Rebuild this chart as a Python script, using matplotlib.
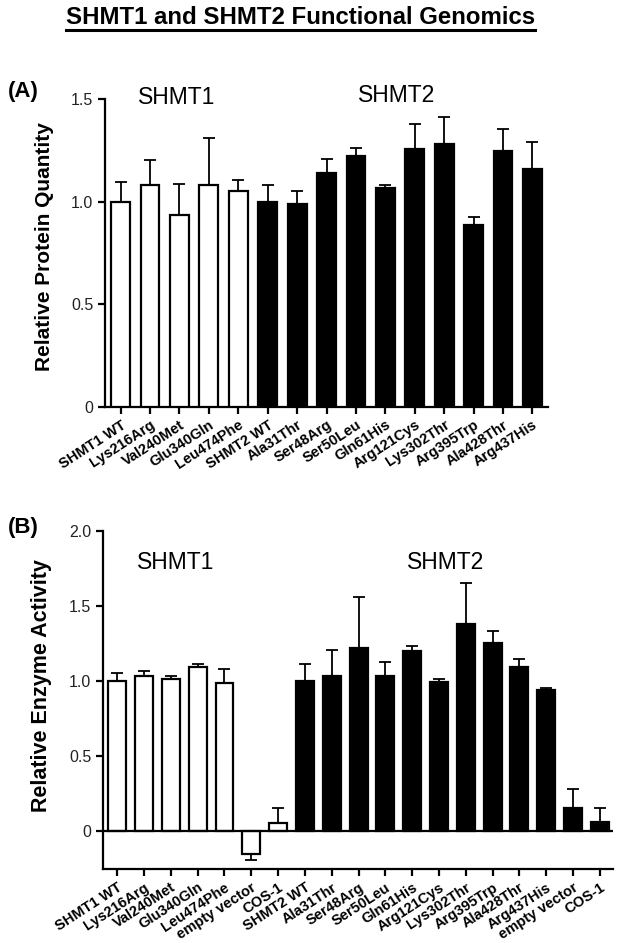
import matplotlib
matplotlib.use("Agg")
import matplotlib.pyplot as plt
from matplotlib.lines import Line2D
import numpy as np

plt.rcParams['font.family'] = ['Liberation Sans', 'DejaVu Sans']

# ---------------- data ----------------
labels_a = ["SHMT1 WT", "Lys216Arg", "Val240Met", "Glu340Gln", "Leu474Phe",
            "SHMT2 WT", "Ala31Thr", "Ser48Arg", "Ser50Leu", "Gln61His",
            "Arg121Cys", "Lys302Thr", "Arg395Trp", "Ala428Thr", "Arg437His"]
values_a = [1.00, 1.08, 0.934, 1.08, 1.051,
            1.00, 0.989, 1.14, 1.224, 1.068,
            1.257, 1.28, 0.888, 1.246, 1.161]
errors_a = [0.093, 0.123, 0.152, 0.232, 0.056,
            0.081, 0.063, 0.067, 0.038, 0.013,
            0.119, 0.13, 0.039, 0.109, 0.127]
group_a = ["SHMT1"] * 5 + ["SHMT2"] * 10

labels_b = ["SHMT1 WT", "Lys216Arg", "Val240Met", "Glu340Gln", "Leu474Phe",
            "empty vector", "COS-1",
            "SHMT2 WT", "Ala31Thr", "Ser48Arg", "Ser50Leu", "Gln61His",
            "Arg121Cys", "Lys302Thr", "Arg395Trp", "Ala428Thr", "Arg437His",
            "empty vector", "COS-1"]
values_b = [1.00, 1.029, 1.009, 1.093, 0.987, -0.153, 0.053,
            1.00, 1.031, 1.22, 1.031, 1.198, 0.991, 1.376, 1.25, 1.093, 0.94,
            0.153, 0.058]
errors_b = [0.049, 0.036, 0.022, 0.018, 0.089, 0.042, 0.098,
            0.109, 0.172, 0.338, 0.092, 0.035, 0.022, 0.28, 0.083, 0.051, 0.011,
            0.125, 0.093]
group_b = ["SHMT1"] * 7 + ["SHMT2"] * 12

yticks_a = [0, 0.5, 1.0, 1.5]
yticklabels_a = ["0", "0.5", "1.0", "1.5"]
yticks_b = [0, 0.5, 1.0, 1.5, 2.0]
yticklabels_b = ["0", "0.5", "1.0", "1.5", "2.0"]

title = "SHMT1 and SHMT2 Functional Genomics"

# ---------------- figure ----------------
W, H = 624, 943
fig = plt.figure(figsize=(W / 100, H / 100), dpi=100)

def px_axes(l, t, r, b):
    return fig.add_axes([l / W, 1 - b / H, (r - l) / W, (b - t) / H])

ax_a = px_axes(105, 99, 548.3, 406.7)
ax_b = px_axes(103.3, 531, 613.3, 869.3)

LW = 1.6
colors = {"SHMT1": "white", "SHMT2": "black"}

def draw_panel(ax, labels, values, errors, groups, width):
    x = np.arange(len(labels))
    fc = [colors[g] for g in groups]
    ax.bar(x, values, width=width, color=fc, edgecolor="black", linewidth=LW, zorder=3)
    for xi, v, e in zip(x, values, errors):
        if v >= 0:
            yerr = [[0], [e]]
        else:
            yerr = [[e], [0]]
        ax.errorbar([xi], [v], yerr=yerr, fmt="none", ecolor="black",
                    elinewidth=1.3, capsize=4.3, capthick=1.3, zorder=2)
    ax.set_xticks(x)
    ax.set_xticklabels(labels, rotation=33, ha="right", rotation_mode="anchor",
                       fontsize=10.5, fontweight="bold")
    for s in ["top", "right"]:
        ax.spines[s].set_visible(False)
    for s in ["left", "bottom"]:
        ax.spines[s].set_linewidth(LW)
    ax.tick_params(axis="both", direction="out", length=5, width=LW, colors="black")
    ax.tick_params(axis="y", labelsize=11.5, labelcolor="#222222")
    ax.tick_params(axis="x", pad=3)

# Panel A
draw_panel(ax_a, labels_a, values_a, errors_a, group_a, 0.64)
ax_a.set_xlim(-0.53, 14.54)
ax_a.set_ylim(0, 1.5)
ax_a.set_yticks(yticks_a)
ax_a.set_yticklabels(yticklabels_a)
ax_a.set_ylabel("Relative Protein Quantity", fontsize=15, fontweight="bold")
ax_a.yaxis.set_label_coords(-0.115, 0.52)
ax_a.text(1.91, 1.505, "SHMT1", fontsize=16.5, ha="center", va="center")
ax_a.text(9.4, 1.516, "SHMT2", fontsize=16.5, ha="center", va="center")

# Panel B
draw_panel(ax_b, labels_b, values_b, errors_b, group_b, 0.67)
ax_b.set_xlim(-0.52, 18.5)
ax_b.set_ylim(-0.258, 2.0)
ax_b.set_yticks(yticks_b)
ax_b.set_yticklabels(yticklabels_b)
ax_b.axhline(0, color="black", linewidth=LW, zorder=4)
ax_b.set_ylabel("Relative Enzyme Activity", fontsize=15.5, fontweight="bold")
ax_b.yaxis.set_label_coords(-0.1, 0.542)
ax_b.text(2.19, 1.79, "SHMT1", fontsize=16.5, ha="center", va="center")
ax_b.text(12.23, 1.79, "SHMT2", fontsize=16.5, ha="center", va="center")

# Panel letters
fig.text(8 / W, 1 - 97 / H, "(A)", fontsize=16, fontweight="bold", ha="left", va="baseline")
fig.text(8 / W, 1 - 533 / H, "(B)", fontsize=16, fontweight="bold", ha="left", va="baseline")

# Title with underline
t = fig.text(0.5 * (64 + 537) / W, 1 - 24 / H, title, fontsize=17.3, fontweight="bold",
             ha="center", va="baseline")
fig.canvas.draw()
bb = t.get_window_extent(renderer=fig.canvas.get_renderer())
uy = 1 - 29.5 / H
fig.add_artist(Line2D([bb.x0 / W, bb.x1 / W], [uy, uy], color="black",
                      linewidth=2.2, transform=fig.transFigure))

fig.savefig("out.png", dpi=100)
